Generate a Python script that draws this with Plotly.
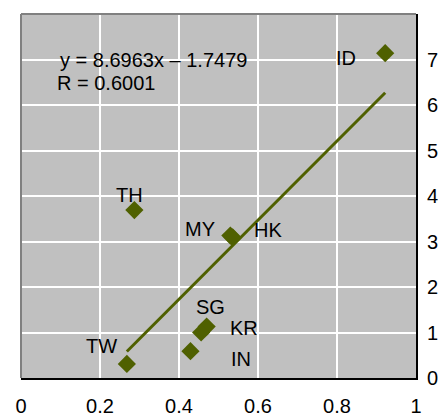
import plotly.graph_objects as go

# Country codes and their (x, y) values
countries = ["ID", "TH", "MY", "HK", "SG", "KR", "IN", "TW"]
x_vals = [0.922, 0.287, 0.530, 0.536, 0.470, 0.456, 0.429, 0.268]
y_vals = [7.14, 3.69, 3.13, 3.09, 1.13, 1.00, 0.59, 0.31]

# Linear fit reported on the chart
slope = 8.6963
intercept = -1.7479
r_value = 0.6001

x_ticks = [0, 0.2, 0.4, 0.6, 0.8, 1]
x_tick_text = ["0", "0.2", "0.4", "0.6", "0.8", "1"]
y_ticks = [0, 1, 2, 3, 4, 5, 6, 7]

# Label offsets (pixels) relative to each marker
label_shift = {
    "ID": (-39, -5), "TH": (-5, 15), "MY": (-30, 7), "HK": (35, 7),
    "SG": (4, 20), "KR": (43, 5), "IN": (51, -8), "TW": (-25, 18),
}

OLIVE = "#4F6000"
FONT = "Liberation Sans, Arial, sans-serif"
FSIZE = 20

fig = go.Figure()

x_lo, x_hi = min(x_vals), max(x_vals)
fig.add_trace(go.Scatter(
    x=[x_lo, x_hi],
    y=[slope * x_lo + intercept, slope * x_hi + intercept],
    mode="lines", line=dict(color=OLIVE, width=3), hoverinfo="skip",
))
fig.add_trace(go.Scatter(
    x=x_vals, y=y_vals, mode="markers",
    marker=dict(symbol="diamond", size=14, color=OLIVE, line=dict(width=0)),
    text=countries,
))

for name, xv, yv in zip(countries, x_vals, y_vals):
    dx, dy = label_shift[name]
    fig.add_annotation(x=xv, y=yv, text=name, showarrow=False,
                       xshift=dx, yshift=dy,
                       font=dict(family=FONT, size=FSIZE, color="black"))

fig.add_annotation(x=0.094, y=6.99, xanchor="left", showarrow=False,
                   text=f"y = {slope}x – {abs(intercept)}",
                   font=dict(family=FONT, size=FSIZE, color="black"))
fig.add_annotation(x=0.086, y=6.48, xanchor="left", showarrow=False,
                   text=f"R = {r_value:.4f}",
                   font=dict(family=FONT, size=FSIZE, color="black"))

# Gray top/left frame edges
fig.add_shape(type="line", xref="paper", yref="paper", x0=0, x1=0, y0=0, y1=1,
              line=dict(color="#808080", width=2))
fig.add_shape(type="line", xref="paper", yref="paper", x0=0, x1=1, y0=1, y1=1,
              line=dict(color="#808080", width=2))

fig.update_layout(
    width=438, height=417,
    margin=dict(l=21, r=22, t=14, b=39, autoexpand=False),
    paper_bgcolor="white", plot_bgcolor="#C0C0C0",
    showlegend=False,
    font=dict(family=FONT, size=FSIZE, color="black"),
)
fig.update_xaxes(
    range=[0, 1], tickvals=x_ticks, ticktext=x_tick_text,
    showgrid=True, gridcolor="white", gridwidth=1.5,
    zeroline=False, showline=True, linecolor="black", linewidth=2,
    ticks="", ticklabelstandoff=9, automargin=False,
    tickfont=dict(family=FONT, size=FSIZE, color="black"),
)
fig.update_yaxes(
    range=[0, 8], tickvals=y_ticks, side="right",
    showgrid=True, gridcolor="white", gridwidth=1.5,
    zeroline=False, showline=True, linecolor="black", linewidth=2,
    ticks="", ticklabelstandoff=5, automargin=False,
    tickfont=dict(family=FONT, size=FSIZE, color="black"),
)

fig.write_html("out.html")
